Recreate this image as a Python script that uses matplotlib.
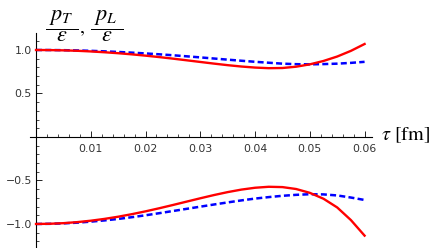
import numpy as np
import matplotlib
matplotlib.use("Agg")
import matplotlib.pyplot as plt
from matplotlib.ticker import MultipleLocator, FixedLocator

tau = [0.0, 0.0025, 0.005, 0.0075, 0.01, 0.0125, 0.015, 0.0175, 0.02, 0.0225,
       0.025, 0.0275, 0.03, 0.0325, 0.035, 0.0375, 0.04, 0.0425, 0.045, 0.0475,
       0.05, 0.0525, 0.055, 0.0575, 0.06]

pT_top = [1.0, 0.999, 0.996, 0.991, 0.9835, 0.974, 0.963, 0.950, 0.935, 0.9185,
          0.9006, 0.8817, 0.8625, 0.8435, 0.8256, 0.810, 0.798, 0.791, 0.793, 0.808,
          0.835, 0.874, 0.925, 0.990, 1.069]
pL_top = [1.0, 0.9995, 0.998, 0.995, 0.9905, 0.9845, 0.9775, 0.9695, 0.9605, 0.9505,
          0.9395, 0.9275, 0.915, 0.902, 0.889, 0.8765, 0.8645, 0.8535, 0.843, 0.837,
          0.835, 0.838, 0.843, 0.852, 0.864]
pT_bot = [-1.0, -0.9976, -0.9906, -0.9788, -0.9624, -0.9415, -0.9164, -0.8872, -0.8547, -0.8192,
          -0.7817, -0.743, -0.7045, -0.6674, -0.6336, -0.6048, -0.5835, -0.5723, -0.576, -0.598,
          -0.642, -0.71, -0.81, -0.955, -1.134]
pL_bot = [-1.0, -0.998, -0.993, -0.985, -0.973, -0.959, -0.942, -0.922, -0.900, -0.876,
          -0.851, -0.826, -0.801, -0.776, -0.752, -0.729, -0.708, -0.691, -0.676, -0.665,
          -0.658, -0.660, -0.672, -0.696, -0.724]

xticks = [0.01, 0.02, 0.03, 0.04, 0.05, 0.06]
xticklabels = ["0.01", "0.02", "0.03", "0.04", "0.05", "0.06"]
yticks = [-1.0, -0.5, 0.5, 1.0]
yticklabels = ["\u22121.0", "\u22120.5", "0.5", "1.0"]

plt.rcParams["mathtext.fontset"] = "stix"

fig = plt.figure(figsize=(4.4, 2.48), dpi=100)
ax = fig.add_axes([30/440, (248-246.6)/248, 341.7/440, 214/248])
ax.set_xlim(-0.0011, 0.0613)
ax.set_ylim(-1.26, 1.2)

blue = "#0000ff"
red = "#ff0000"
ax.plot(tau, pL_top, color=blue, lw=1.8, linestyle=(0, (2.4, 1.3)), zorder=2)
ax.plot(tau, pL_bot, color=blue, lw=1.8, linestyle=(0, (2.4, 1.3)), zorder=2)
ax.plot(tau, pT_top, color=red, lw=1.7, zorder=3)
ax.plot(tau, pT_bot, color=red, lw=1.7, zorder=3)

for s in ("top", "right"):
    ax.spines[s].set_visible(False)
ax.spines["left"].set_position(("data", 0))
ax.spines["bottom"].set_position(("data", 0))
ax.spines["left"].set_linewidth(0.8)
ax.spines["bottom"].set_linewidth(0.8)

ax.xaxis.set_major_locator(FixedLocator(xticks))
ax.set_xticklabels(xticklabels)
ax.xaxis.set_minor_locator(MultipleLocator(0.002))
ax.yaxis.set_major_locator(FixedLocator(yticks))
ax.set_yticklabels(yticklabels)
ax.yaxis.set_minor_locator(FixedLocator([v/10 for v in range(-12, 12) if v not in (-10, -5, 0, 5, 10)]))

tc = "#333333"
ax.tick_params(axis="x", which="major", direction="in", length=4, width=0.6,
               labelsize=7.8, labelcolor=tc, pad=5)
ax.tick_params(axis="x", which="minor", direction="in", length=2.3, width=0.5)
ax.tick_params(axis="y", which="major", direction="in", length=4, width=0.6,
               labelsize=7.8, labelcolor=tc, pad=3)
ax.tick_params(axis="y", which="minor", direction="in", length=2.3, width=0.5)

fig.text(45/440, 1 - 26/248, r"$\dfrac{\ p_T\ }{\varepsilon}$", fontsize=16,
         ha="left", va="center")
fig.text(80/440, 1 - 28/248, ",", fontsize=14, family="STIXGeneral", ha="left", va="center")
fig.text(90/440, 1 - 26/248, r"$\dfrac{\ p_L\ }{\varepsilon}$", fontsize=16,
         ha="left", va="center")
fig.text(381/440, 1 - 135/248, r"$\tau$ [fm]", fontsize=14.5, family="STIXGeneral",
         ha="left", va="center")

fig.savefig("out.png", dpi=100)
